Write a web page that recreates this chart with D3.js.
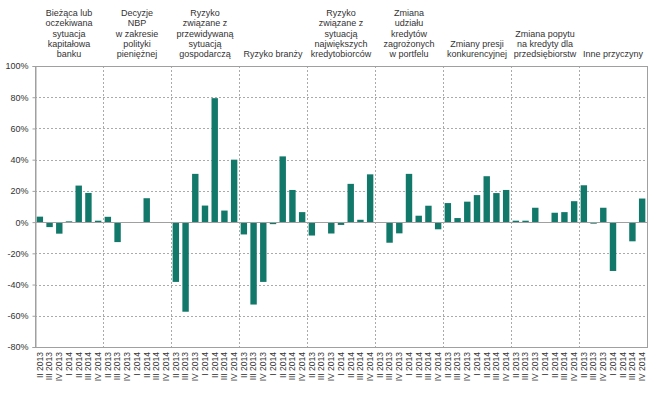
<!DOCTYPE html>
<html>
<head>
<meta charset="utf-8">
<script src="https://cdn.jsdelivr.net/npm/d3@7/dist/d3.min.js"></script>
<style>
  html, body { margin: 0; padding: 0; background: #fff; }
  svg { display: block; }
  text { font-family: "Liberation Sans", Arial, sans-serif; fill: #333; }
</style>
</head>
<body>
<svg id="chart" width="649" height="403"></svg>
<script>
// ---- data ----
const categories = [
  ["Bieżąca lub", "oczekiwana", "sytuacja", "kapitałowa", "banku"],
  ["Decyzje", "NBP", "w zakresie", "polityki", "pieniężnej"],
  ["Ryzyko", "związane z", "przewidywaną", "sytuacją", "gospodarczą"],
  ["Ryzyko branży"],
  ["Ryzyko", "związane z", "sytuacją", "największych", "kredytobiorców"],
  ["Zmiana", "udziału", "kredytów", "zagrożonych", "w portfelu"],
  ["Zmiany presji", "konkurencyjnej"],
  ["Zmiana popytu", "na kredyty dla", "przedsiębiorstw"],
  ["Inne przyczyny"]
];
const quarters = ["II 2013", "III 2013", "IV 2013", "I 2014", "II 2014", "III 2014", "IV 2014"];
const valCapital     = [3.5, -3.2, -7.4, 0.5, 23.4, 18.7, 0.9];
const valNBP         = [3.4, -12.8, 0, 0, 15.3, 0, 0];
const valEconomy     = [-38.3, -57.4, 30.9, 10.6, 79.4, 7.4, 40.0];
const valIndustry    = [-7.9, -52.8, -38.3, -1.3, 42.1, 20.6, 6.4];
const valBorrowers   = [-8.6, -0.5, -7.3, -1.8, 24.5, 1.5, 30.6];
const valBadLoans    = [-0.4, -13.2, -7.2, 30.9, 4.1, 10.5, -4.6];
const valCompetition = [12.2, 2.6, 13.1, 17.3, 29.4, 18.6, 20.6];
const valDemand      = [0.9, 0.9, 9.2, 0, 6.0, 6.4, 13.4];
const valOther       = [23.6, -1.0, 9.2, -31.3, 0, -12.3, 15.1];
const seriesValues = [valCapital, valNBP, valEconomy, valIndustry, valBorrowers,
                      valBadLoans, valCompetition, valDemand, valOther];
const yTicks = [-80, -60, -40, -20, 0, 20, 40, 60, 80, 100];

// ---- build flat table ----
const rows = [];
seriesValues.forEach((vals, g) => {
  vals.forEach((v, q) => rows.push({ g, q, key: g + "-" + q, label: quarters[q], value: v }));
});

const svg = d3.select("#chart");
const pLeft = 35, pRight = 647, pTop = 66, pBottom = 347;

const x = d3.scaleBand()
  .domain(rows.map(d => d.key))
  .range([pLeft, pRight])
  .paddingInner(0.34)
  .paddingOuter(0.17);
const y = d3.scaleLinear().domain([-80, 100]).range([pBottom, pTop]);
const step = x.step();
const groupX = g => pLeft + g * 7 * step;

// horizontal dashed gridlines
svg.append("g").selectAll("line")
  .data(yTicks.filter(t => t !== 0 && t !== -80 && t !== 100))
  .join("line")
  .attr("x1", pLeft).attr("x2", pRight)
  .attr("y1", d => Math.round(y(d)) + 0.5).attr("y2", d => Math.round(y(d)) + 0.5)
  .attr("stroke", "#aaa").attr("stroke-width", 1)
  .attr("stroke-dasharray", "2,2");

// vertical dashed group separators
svg.append("g").selectAll("line")
  .data(d3.range(1, categories.length))
  .join("line")
  .attr("x1", g => Math.round(groupX(g)) + 0.5).attr("x2", g => Math.round(groupX(g)) + 0.5)
  .attr("y1", pTop).attr("y2", pBottom)
  .attr("stroke", "#aaa").attr("stroke-width", 1)
  .attr("stroke-dasharray", "2,2");

// bars
svg.append("g").selectAll("rect")
  .data(rows.filter(d => d.value !== 0))
  .join("rect")
  .attr("x", d => x(d.key))
  .attr("width", x.bandwidth())
  .attr("y", d => y(Math.max(0, d.value)))
  .attr("height", d => Math.abs(y(d.value) - y(0)))
  .attr("fill", "#12786a");

// zero line
svg.append("line")
  .attr("x1", pLeft).attr("x2", pRight)
  .attr("y1", Math.round(y(0)) + 0.5).attr("y2", Math.round(y(0)) + 0.5)
  .attr("stroke", "#a0a0a0").attr("stroke-width", 1);

// frame
svg.append("rect")
  .attr("x", pLeft + 0.5).attr("y", pTop + 0.5)
  .attr("width", pRight - pLeft).attr("height", pBottom - pTop)
  .attr("fill", "none").attr("stroke", "#a0a0a0").attr("stroke-width", 1);

// y axis
const yAxis = d3.axisLeft(y).tickValues(yTicks).tickSize(3).tickFormat(d => d + "%");
const yg = svg.append("g").attr("transform", `translate(${pLeft + 0.5},0)`).call(yAxis);
yg.select(".domain").attr("stroke", "#a0a0a0");
yg.selectAll(".tick line").attr("stroke", "#a0a0a0");
yg.selectAll(".tick text")
  .attr("x", -7)
  .style("font-family", "'Liberation Sans', Arial, sans-serif")
  .style("font-size", "9px").attr("fill", "#333");

// x axis (quarter labels, rotated)
const xAxis = d3.axisBottom(x).tickSize(0).tickFormat(k => rows.find(r => r.key === k).label);
const xg = svg.append("g").attr("transform", `translate(0,${pBottom})`).call(xAxis);
xg.select(".domain").remove();
xg.selectAll(".tick text")
  .attr("transform", "rotate(-90)")
  .attr("x", -5).attr("y", 0).attr("dy", "0.34em")
  .attr("text-anchor", "end")
  .style("font-family", "'Liberation Sans', Arial, sans-serif")
  .style("font-size", "8.5px").attr("fill", "#333");

// category headers (bottom-aligned multi-line)
const lastBaseline = 57, lineH = 10.2;
const hdr = svg.append("g").selectAll("text")
  .data(categories)
  .join("text")
  .attr("text-anchor", "middle")
  .style("font-size", "9px");
hdr.each(function(lines, g) {
  const cx = groupX(g) + 3.5 * step;
  const n = lines.length;
  d3.select(this).selectAll("tspan")
    .data(lines)
    .join("tspan")
    .attr("x", cx)
    .attr("y", (d, i) => lastBaseline - (n - 1 - i) * lineH)
    .text(d => d);
});
</script>
</body>
</html>
